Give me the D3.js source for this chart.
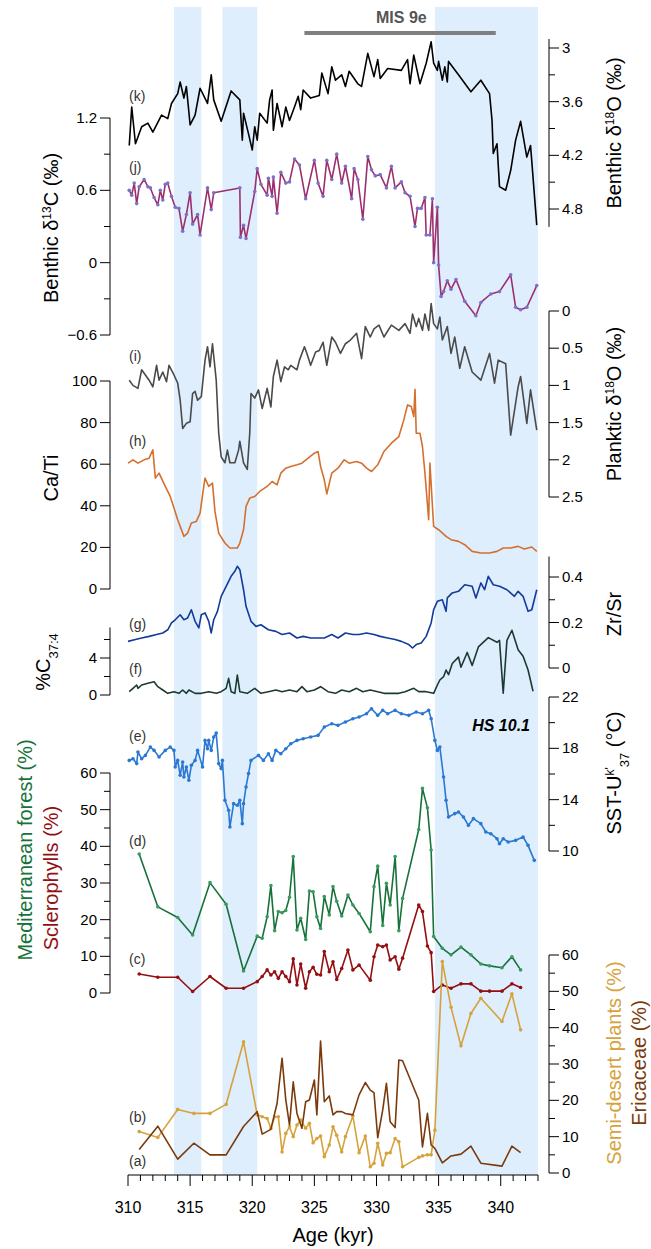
<!DOCTYPE html>
<html><head><meta charset="utf-8">
<script src="https://cdn.jsdelivr.net/npm/d3@7/dist/d3.min.js"></script>
<style>body{margin:0;background:#fff}text{font-family:"Liberation Sans",Arial,sans-serif}</style>
</head><body><div id="chart"></div>
<script>
// age axis + shaded stadials
var ageTicks = [310,315,320,325,330,335,340];
var bands = [[313.7,315.9],[317.6,320.4],[334.7,343]];
var misBar = [324.2,339.6];

// (k) benthic d18O
var kAge = [310.1,310.3,310.6,311.1,311.6,312.0,312.7,313.2,313.5,314.0,314.2,314.5,314.7,315.0,315.4,315.8,316.4,316.7,316.9,317.5,318.3,319.0,319.2,319.3,319.7,320.0,320.2,320.4,320.6,321.2,321.4,321.6,321.7,322.0,322.4,322.7,323.0,323.4,323.7,323.9,324.1,324.7,325.4,325.6,326.1,326.4,326.7,327.2,327.5,327.8,328.5,328.8,329.3,329.8,330.1,330.3,330.9,332.0,332.5,332.7,333.0,333.5,334.0,334.4,334.6,334.9,335.0,335.3,335.5,335.7,335.8,336.6,337.6,338.4,339.1,339.3,339.4,339.7,339.9,340.4,340.8,341.2,341.6,342.1,342.4,342.9];
var kVal = [4.09,3.66,4.07,3.88,3.84,3.94,3.75,3.79,3.62,3.51,3.38,3.56,3.43,3.86,3.75,3.45,3.62,3.30,3.58,3.82,3.48,3.58,4.03,3.73,3.96,4.14,3.88,4.03,3.73,3.84,3.58,3.47,3.92,3.62,3.88,3.66,3.81,3.66,3.54,3.69,3.47,3.56,3.53,3.28,3.51,3.21,3.36,3.30,3.43,3.26,3.40,3.43,3.06,3.32,3.13,3.34,3.23,3.25,3.13,3.40,3.08,3.40,3.17,2.93,3.17,3.25,3.15,3.36,3.21,3.38,3.15,3.30,3.49,3.36,3.51,3.81,4.18,4.07,4.55,4.59,4.37,4.03,3.82,4.22,4.09,4.98];

// (j) benthic d13C
var jAge = [310.1,310.3,310.5,310.7,310.9,311.3,311.6,311.8,312.1,312.4,312.6,312.8,313.0,313.2,313.5,313.8,314.1,314.4,314.7,315.0,315.2,315.6,315.8,316.4,316.7,316.9,319.0,319.05,319.3,319.5,320.2,320.4,320.7,321.2,321.3,321.6,321.7,322.0,322.3,322.7,323.0,323.4,323.8,324.3,325.0,325.3,325.7,326.0,326.4,326.8,327.2,327.5,328.0,328.2,328.5,328.9,329.3,329.6,329.9,330.3,330.8,331.2,331.5,332.0,332.3,332.7,333.1,333.3,333.6,333.9,334.0,334.3,334.5,334.6,334.9,335.0,335.2,335.4,335.7,336.0,336.4,337.1,338.0,338.4,339.2,339.9,340.8,341.2,341.6,342.1,342.9];
var jVal = [0.60,0.56,0.66,0.49,0.63,0.69,0.63,0.62,0.54,0.48,0.60,0.52,0.65,0.66,0.55,0.46,0.45,0.26,0.40,0.58,0.32,0.40,0.23,0.62,0.44,0.58,0.62,0.21,0.31,0.20,0.59,0.78,0.65,0.56,0.70,0.55,0.71,0.41,0.75,0.66,0.67,0.86,0.81,0.53,0.85,0.66,0.55,0.85,0.69,0.90,0.66,0.80,0.53,0.78,0.69,0.36,0.88,0.77,0.72,0.73,0.62,0.80,0.62,0.67,0.58,0.55,0.30,0.45,0.45,0.54,0.23,0.23,0.53,0.00,0.46,-0.02,-0.28,-0.24,-0.15,-0.22,-0.14,-0.32,-0.44,-0.33,-0.26,-0.24,-0.10,-0.37,-0.39,-0.37,-0.19];

// (i) planktic d18O
var iAge = [310.1,310.4,310.8,311.1,311.4,311.7,312.0,312.3,312.5,312.8,313.1,313.3,313.7,314.0,314.2,314.4,314.7,315.0,315.2,315.4,315.6,315.9,316.2,316.4,316.6,316.8,317.1,317.3,317.5,317.8,318.0,318.2,318.6,318.9,319.0,319.3,319.6,319.8,319.9,320.2,320.5,320.8,321.2,321.5,321.7,322.0,322.3,322.6,322.9,323.1,323.6,323.8,324.2,324.4,324.7,325.1,325.4,325.7,326.0,326.4,326.7,327.1,327.5,327.9,328.4,328.8,329.1,329.5,329.8,330.2,330.6,331.2,331.8,332.3,332.7,332.9,333.2,333.4,333.7,333.9,334.2,334.4,334.6,334.9,335.1,335.3,335.7,336.0,336.3,336.7,337.1,337.7,338.4,339.1,339.5,339.8,340.4,340.8,341.4,341.6,342.1,342.4,342.9];
var iVal = [0.93,1.00,1.04,0.79,0.86,0.93,1.02,0.73,0.93,0.82,0.95,0.73,0.86,0.97,1.20,1.58,1.51,1.49,1.11,1.08,1.20,1.15,0.66,0.48,0.75,0.44,0.93,1.64,1.96,2.04,1.87,2.04,2.04,1.87,1.75,2.04,2.13,1.64,1.11,1.17,1.06,1.31,1.04,1.29,0.88,0.66,0.95,0.75,0.79,0.73,0.79,0.66,0.48,0.57,0.73,0.55,0.53,0.42,0.73,0.35,0.42,0.57,0.44,0.39,0.30,0.64,0.21,0.35,0.24,0.19,0.35,0.19,0.26,0.17,0.30,0.04,0.21,0.10,0.26,0.04,0.26,-0.10,0.17,0.24,0.08,0.39,0.21,0.57,0.35,0.77,0.48,0.82,0.93,0.57,0.97,0.66,0.71,1.67,1.02,0.88,1.51,1.06,1.60];

// (h) Ca/Ti
var hAge = [310.0,310.4,310.8,311.3,311.7,312.0,312.2,312.5,313.0,313.4,313.7,314.0,314.2,314.5,314.8,315.1,315.5,315.8,316.1,316.2,316.5,316.8,317.0,317.3,317.8,318.2,318.8,319.0,319.3,319.5,319.8,320.2,320.6,321.2,321.6,322.0,322.3,322.7,323.1,323.6,324.0,324.5,325.0,325.3,325.5,325.8,326.0,326.4,326.9,327.4,327.8,328.4,328.8,329.2,329.6,330.1,330.6,331.2,331.8,332.2,332.5,332.8,333.0,333.1,333.2,333.5,333.7,333.9,334.2,334.3,334.6,335.0,335.6,336.0,336.6,337.1,337.7,338.4,339.1,339.7,340.2,340.8,341.4,341.9,342.5,342.9];
var hVal = [60.5,62.1,60.5,62.1,62.9,66.9,53.3,55.7,49.3,44.5,38.9,33.3,30.1,25.3,26.9,31.7,32.5,36.5,49.3,53.3,49.3,50.9,37.3,26.9,22.1,19.7,19.7,22.1,28.5,39.7,43.7,44.5,46.9,49.3,51.7,50.1,55.7,58.1,58.9,59.7,60.5,62.9,65.3,66.1,58.9,52.5,45.7,55.7,58.1,62.1,60.5,61.3,60.5,58.1,56.5,59.7,66.1,70.1,73.3,81.3,88.5,87.7,82.9,96.0,74.9,74.9,68.5,55.7,33.3,60.5,30.1,28.5,25.3,23.7,22.9,21.3,18.1,17.3,17.3,18.1,19.7,19.7,20.5,19.2,20.2,18.1];

// (g) Zr/Sr
var gAge = [310.0,310.6,311.1,311.7,312.3,312.8,313.2,313.5,313.8,314.2,314.5,314.8,315.1,315.4,315.7,315.9,316.2,316.5,316.7,316.9,317.2,317.5,317.9,318.3,318.6,318.8,319.0,319.3,319.5,319.9,320.3,320.7,321.3,321.9,322.4,323.0,323.6,324.1,324.7,325.3,325.8,326.4,326.9,327.5,328.1,328.6,329.2,329.8,330.3,330.9,331.5,332.0,332.6,332.9,333.2,333.6,334.0,334.4,334.6,334.9,335.3,335.6,335.7,336.1,336.6,337.1,337.7,338.0,338.4,338.7,339.0,339.4,339.9,340.5,341.1,341.4,341.8,342.2,342.5,342.9];
var gVal = [0.117,0.125,0.132,0.139,0.147,0.154,0.168,0.198,0.212,0.234,0.212,0.220,0.256,0.205,0.176,0.234,0.242,0.205,0.154,0.212,0.249,0.315,0.359,0.403,0.425,0.447,0.432,0.344,0.271,0.205,0.183,0.190,0.168,0.161,0.147,0.154,0.132,0.139,0.132,0.132,0.132,0.147,0.132,0.154,0.147,0.147,0.154,0.147,0.139,0.132,0.125,0.117,0.103,0.088,0.103,0.110,0.139,0.198,0.256,0.293,0.300,0.249,0.308,0.330,0.337,0.366,0.359,0.308,0.374,0.344,0.403,0.366,0.359,0.344,0.315,0.337,0.315,0.249,0.256,0.344];

// (f) %C37:4
var fAge = [310.1,310.4,310.7,310.8,311.1,311.6,312.1,312.4,312.8,313.2,313.7,314.1,314.4,314.7,314.9,315.4,315.9,316.5,317.1,317.5,317.9,318.1,318.3,318.6,318.8,319.0,319.6,320.2,320.7,321.3,321.9,322.4,323.0,323.6,324.0,324.4,325.0,325.5,326.1,326.7,327.2,327.8,328.4,328.9,329.5,330.1,330.6,331.2,331.8,332.3,333.0,333.4,334.0,334.6,334.9,335.1,335.4,335.6,335.8,336.1,336.6,336.8,337.3,337.7,338.2,339.0,339.7,339.9,340.2,340.5,340.9,341.4,341.8,342.2,342.6];
var fVal = [0.36,0.72,1.08,0.72,1.08,1.26,1.44,0.9,0.54,0.18,0.36,0.18,0.54,0.18,0.54,0.18,0.18,0.36,0.18,0.36,0.72,1.8,0.36,0.18,2.16,0.36,0.18,0.72,0.18,0.36,0.54,0.36,0.54,0.36,0.9,0.36,0.54,0.9,0.36,0.18,0.54,0.36,0.72,0.36,0.54,0.36,0.18,0.18,0.18,0.36,0.72,0.36,0.36,0.18,1.08,1.62,1.98,2.7,2.2,3.4,4.1,3.0,4.6,3.2,5.2,6.2,5.7,5.9,0.2,5.9,7.0,4.9,4.2,2.7,0.4];

// (e) SST-Uk'37
var eAge = [310.1,310.4,310.7,310.8,311.1,311.4,311.8,312.1,312.5,313.0,313.4,313.7,313.8,314.0,314.2,314.4,314.5,314.7,314.9,315.1,315.4,315.6,316.0,316.2,316.4,316.5,316.7,316.9,317.1,317.3,317.5,317.6,317.8,318.1,318.2,318.5,318.8,319.0,319.2,319.3,319.5,319.7,319.9,320.5,320.9,321.3,321.6,321.9,322.3,322.7,323.1,323.6,324.1,324.7,325.3,325.8,326.4,326.9,327.5,328.1,328.6,329.2,329.6,330.1,330.5,330.9,331.5,332.0,332.6,333.2,333.7,334.2,334.4,334.7,334.9,335.1,335.4,335.6,335.8,336.3,336.6,337.0,337.4,337.8,338.4,338.8,339.2,339.7,339.9,340.2,340.6,341.2,341.8,342.2,342.7];
var eVal = [17.06,17.19,16.81,17.71,17.19,17.45,18.10,17.84,17.32,17.84,18.10,17.84,16.55,17.06,15.90,16.94,15.77,16.55,15.51,16.68,17.06,17.84,16.55,18.62,17.97,18.62,17.84,18.88,19.19,16.81,16.42,17.06,13.95,13.17,11.87,13.69,13.56,13.95,12.13,13.69,14.99,16.03,17.06,17.45,17.06,17.58,17.06,17.84,17.58,17.97,18.36,18.62,18.75,18.88,19.01,19.66,19.92,19.79,20.05,20.31,20.44,20.70,21.09,20.57,20.96,20.70,20.96,20.70,20.57,20.83,20.70,20.96,20.31,18.62,17.84,18.10,15.77,13.95,12.65,12.91,13.04,12.65,12.00,12.52,12.13,11.48,11.35,10.96,10.57,10.96,10.70,10.83,11.09,10.44,9.27];

// (d) Mediterranean forest, (c) sclerophylls  (same pollen samples)
var pollenAge = [310.9,312.4,314.0,315.2,316.6,317.9,319.3,320.4,320.8,321.2,321.5,321.8,322.1,322.4,322.7,323.0,323.3,323.6,323.9,324.3,324.6,324.9,325.2,325.5,325.8,326.2,326.5,326.8,327.2,327.7,328.1,328.6,329.5,329.8,330.1,330.5,330.8,331.1,331.5,331.8,332.1,333.4,333.7,334.1,334.4,334.6,335.3,336.0,336.8,337.6,338.4,339.1,340.1,340.9,341.6];
var forest = [37.9,23.5,20.6,15.8,30.1,24.2,6.0,15.5,14.9,20.8,29.3,17.0,22.2,21.9,22.5,26.1,37.2,17.2,20.4,14.6,27.8,27.6,20.8,17.6,26.3,21.3,29.0,25.0,21.0,26.7,24.0,21.7,16.7,29.0,34.6,18.4,29.9,24.0,37.2,17.0,25.8,44.6,55.8,50.5,39.0,15.4,12.2,10.4,12.5,10.4,7.9,7.4,6.9,9.9,6.3];
var scler = [5.2,4.3,4.3,0.4,4.5,1.3,1.3,3.1,4.5,6.3,4.9,5.8,4.0,5.8,4.5,3.1,9.3,2.2,7.9,1.3,5.8,7.0,5.1,4.9,11.3,5.8,8.5,3.7,6.7,11.7,6.3,7.6,3.5,9.9,13.1,12.6,13.1,9.0,9.9,6.5,9.5,24.0,22.2,12.8,11.0,0.4,2.2,1.3,2.5,2.5,0.5,0.5,0.5,2.5,1.5];

// (b) semi-desert plants, (a) Ericaceae
var semiAge = [310.9,312.4,314.0,315.3,316.6,317.9,319.3,320.4,320.8,321.2,321.5,321.8,322.1,322.4,322.7,323.0,323.3,323.6,323.9,324.3,324.6,324.9,325.2,325.5,325.8,326.2,326.5,326.8,327.2,327.5,328.1,328.6,329.1,329.5,329.8,330.1,330.5,330.8,331.1,331.5,331.8,332.1,333.4,333.7,334.1,334.4,334.7,335.3,336.0,336.8,337.6,338.4,340.1,340.9,341.6];
var semi = [11.4,9.8,17.5,16.4,16.4,18.9,36.1,16.0,15.5,15.0,12.3,15.5,15.5,5.8,10.9,12.7,10.0,13.2,14.6,12.3,13.7,8.3,9.5,10.2,4.5,7.7,12.7,10.4,5.8,10.0,15.7,5.6,10.2,1.7,2.7,8.2,2.2,5.4,5.6,9.5,8.6,1.7,4.3,4.7,5.0,5.0,11.8,58.2,45.6,35.0,43.9,48.1,41.7,49.3,39.4];
var ericAge = [310.9,312.4,314.0,315.3,316.6,317.9,319.3,320.4,320.8,321.5,322.0,322.4,322.7,323.0,323.3,323.6,324.0,324.3,324.6,325.0,325.2,325.5,325.8,326.2,326.5,326.8,327.2,327.5,328.1,328.6,329.1,329.5,329.8,330.1,330.5,330.8,331.1,331.5,331.8,332.1,333.4,333.7,334.1,334.4,334.7,335.3,336.0,336.8,337.6,338.4,340.1,340.9,341.6];
var eric = [6.5,12.9,3.8,8.2,5.0,5.0,12.8,16.9,10.7,12.0,19.2,31.6,20.1,13.2,25.1,16.4,12.3,19.6,20.1,25.6,16.0,36.3,19.6,21.2,16.0,16.9,16.9,16.4,16.0,21.5,24.9,22.8,22.1,9.7,17.3,24.7,14.1,12.5,31.1,30.9,20.1,7.2,16.4,7.7,6.8,2.8,4.7,5.2,7.4,2.7,1.9,7.4,5.6];

var W = 651, H = 1249;
var svg = d3.select("#chart").append("svg").attr("width", W).attr("height", H);
var x = d3.scaleLinear().domain([310, 343]).range([128, 538]);
var LX = 110, RX = 549;

svg.selectAll("rect.band").data(bands).enter().append("rect")
  .attr("x", d => x(d[0])).attr("width", d => x(d[1]) - x(d[0]))
  .attr("y", 7).attr("height", 1168).attr("fill", "#deeefd");

svg.append("line").attr("x1", x(misBar[0])).attr("x2", x(misBar[1]))
  .attr("y1", 33).attr("y2", 33).attr("stroke", "#7f7f7f").attr("stroke-width", 4);
svg.append("text").attr("x", x(332)).attr("y", 23).attr("text-anchor", "middle")
  .attr("font-size", 16).attr("font-weight", "bold").attr("fill", "#555").text("MIS 9e");

function yAxis(side, domain, range, majors, minors, ext, fmt){
  var y = d3.scaleLinear().domain(domain).range(range);
  var g = svg.append("g").attr("transform", "translate(" + (side == "L" ? LX : RX) + ",0)");
  var s = side == "L" ? -1 : 1;
  g.append("line").attr("x1", 0).attr("x2", 0).attr("y1", y(ext[0])).attr("y2", y(ext[1])).attr("stroke", "#000");
  minors.forEach(v => g.append("line").attr("x1", 0).attr("x2", s*6).attr("y1", y(v)).attr("y2", y(v)).attr("stroke", "#000"));
  majors.forEach(v => {
    g.append("line").attr("x1", 0).attr("x2", s*10).attr("y1", y(v)).attr("y2", y(v)).attr("stroke", "#000");
    g.append("text").attr("x", s*13).attr("y", y(v) + 5).attr("font-size", 15)
      .attr("text-anchor", side == "L" ? "end" : "start").text(fmt ? fmt(v) : v);
  });
  return y;
}

function series(ages, vals, y, color, dots, dotColor){
  var pts = ages.map((a, i) => [a, vals[i]]);
  svg.append("path").datum(pts).attr("fill", "none").attr("stroke", color).attr("stroke-width", 1.6)
    .attr("stroke-linejoin", "round")
    .attr("d", d3.line().x(d => x(d[0])).y(d => y(d[1])));
  if (dots) svg.append("g").selectAll("circle").data(pts).enter().append("circle")
    .attr("cx", d => x(d[0])).attr("cy", d => y(d[1])).attr("r", 1.8).attr("fill", dotColor || color);
}

function vtitle(xp, yp, parts, anchor){
  var t = svg.append("text").attr("transform", "translate(" + xp + "," + yp + ") rotate(-90)")
    .attr("text-anchor", anchor || "middle").attr("font-size", 20);
  parts.forEach(p => {
    var ts = t.append("tspan").text(p.t).attr("fill", p.c || "#000");
    if (p.sup) ts.attr("baseline-shift", "super").attr("font-size", 12);
    if (p.sub) ts.attr("baseline-shift", "sub").attr("font-size", 13);
  });
}

function plabel(txt, yp){
  svg.append("text").attr("x", 129).attr("y", yp).attr("font-size", 14).attr("fill", "#333").text(txt);
}

var f1 = d3.format(".1f");
var yk = yAxis("R", [3, 4.8], [48, 209], [3, 3.6, 4.2, 4.8], [3.3, 3.9, 4.5], [2.9, 5.0], v => v == 3 ? "3" : f1(v));
var yj = yAxis("L", [-0.6, 1.2], [335, 118], [-0.6, 0, 0.6, 1.2], [-0.3, 0.3, 0.9], [-0.6, 1.2], v => v == 0 ? "0" : f1(v));
var yi = yAxis("R", [0, 2.5], [311, 497], [0, 0.5, 1, 1.5, 2, 2.5], [], [0, 2.5]);
var yh = yAxis("L", [0, 100], [589, 381], [0, 20, 40, 60, 80, 100], [], [0, 100]);
var yg = yAxis("R", [0, 0.4], [668, 577], [0, 0.2, 0.4], [0.1, 0.3], [0, 0.49]);
var yf = yAxis("L", [0, 4], [695, 658], [0, 4], [2, 6], [0, 7.3]);
var ye = yAxis("R", [10, 22], [851, 697], [10, 14, 18, 22], [12, 16, 20], [10, 22]);
var yd = yAxis("L", [0, 60], [993, 773], [0, 10, 20, 30, 40, 50, 60], [5, 15, 25, 35, 45, 55], [0, 60]);
var yb = yAxis("R", [0, 60], [1173, 955], [0, 10, 20, 30, 40, 50, 60], [5, 15, 25, 35, 45, 55], [0, 60]);

series(kAge, kVal, yk, "#000");
series(jAge, jVal, yj, "#9c2f6f", true, "#7a72c8");
series(iAge, iVal, yi, "#4a4a4a");
series(hAge, hVal, yh, "#d4702e");
series(gAge, gVal, yg, "#133b9c");
series(fAge, fVal, yf, "#1c3b30");
series(eAge, eVal, ye, "#2b78d2", true);
series(pollenAge, forest, yd, "#16723a", true, "#3b9a5e");
series(pollenAge, scler, yd, "#930f12", true);
series(semiAge, semi, yb, "#d6a23c", true);
series(ericAge, eric, yb, "#7b3a0c");

// bottom age axis
var xa = svg.append("g").attr("transform", "translate(0,1175)");
xa.append("line").attr("x1", x(310)).attr("x2", x(343)).attr("stroke", "#000");
d3.range(310, 344).forEach(v => xa.append("line").attr("x1", x(v)).attr("x2", x(v)).attr("y1", 0)
  .attr("y2", v % 5 == 0 ? 11 : 6).attr("stroke", "#000"));
ageTicks.forEach(v => xa.append("text").attr("x", x(v)).attr("y", 38).attr("text-anchor", "middle")
  .attr("font-size", 16).text(v));
svg.append("text").attr("x", x(326.5)).attr("y", 1242).attr("text-anchor", "middle").attr("font-size", 20).text("Age (kyr)");

svg.append("text").attr("x", 530).attr("y", 731).attr("text-anchor", "end").attr("font-size", 16)
  .attr("font-weight", "bold").attr("font-style", "italic").text("HS 10.1");

plabel("(k)", 101); plabel("(j)", 172); plabel("(i)", 361); plabel("(h)", 446);
plabel("(g)", 629); plabel("(f)", 674); plabel("(e)", 741); plabel("(d)", 846);
plabel("(c)", 964); plabel("(b)", 1122); plabel("(a)", 1166);

vtitle(621, 133, [{t:"Benthic δ"},{t:"18",sup:true},{t:"O (‰)"}]);
vtitle(58, 228, [{t:"Benthic δ"},{t:"13",sup:true},{t:"C (‰)"}]);
vtitle(621, 404, [{t:"Planktic δ"},{t:"18",sup:true},{t:"O (‰)"}]);
vtitle(58, 478, [{t:"Ca/Ti"}]);
vtitle(621, 614, [{t:"Zr/Sr"}]);
vtitle(50, 662, [{t:"%C"},{t:"37:4",sub:true}]);
vtitle(621, 773, [{t:"SST-U"},{t:"k'",sup:true},{t:"37",sub:true},{t:" (°C)"}]);
vtitle(32, 850, [{t:"Mediterranean forest (%)", c:"#16723a"}]);
vtitle(58, 878, [{t:"Sclerophylls (%)", c:"#930f12"}]);
vtitle(621, 1063, [{t:"Semi-desert plants (%)", c:"#d6a23c"}]);
vtitle(646, 1063, [{t:"Ericaceae (%)", c:"#7b3a0c"}]);
</script></body></html>
